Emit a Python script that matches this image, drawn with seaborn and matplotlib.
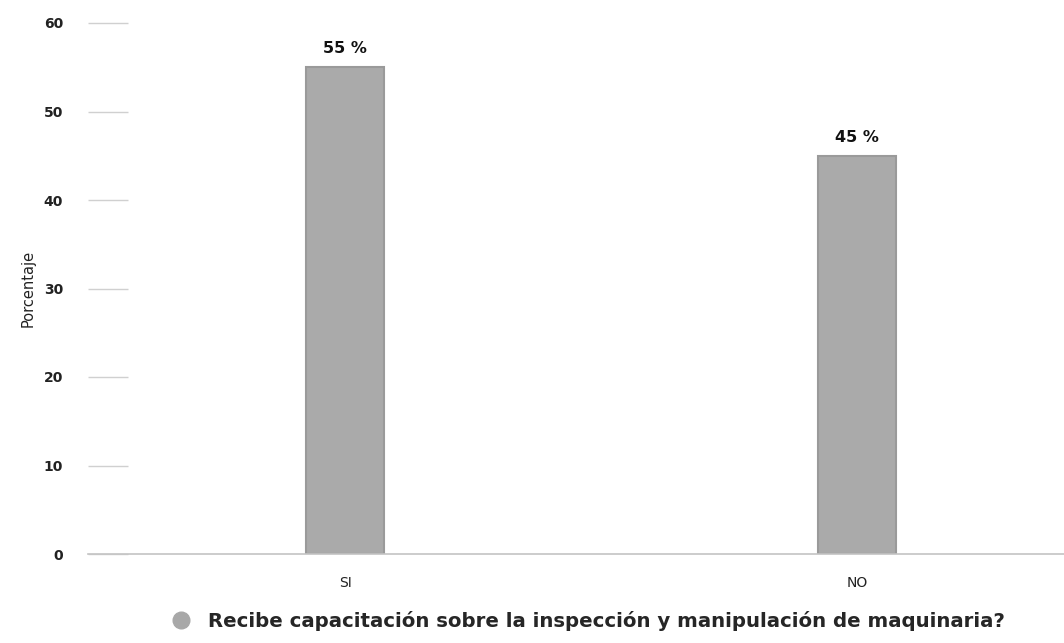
import matplotlib
matplotlib.use("Agg")
import matplotlib.pyplot as plt
import seaborn as sns
import pandas as pd
from matplotlib.lines import Line2D

categories = ["SI", "NO"]
values = [55, 45]
y_ticks = [0, 10, 20, 30, 40, 50, 60]
legend_label = "Recibe capacitación sobre la inspección y manipulación de maquinaria?"
y_label = "Porcentaje"

sns.set_theme(style="white")
plt.rcParams['font.family'] = ['DejaVu Sans']

df = pd.DataFrame({"cat": categories, "val": values})

fig = plt.figure(figsize=(10.64, 6.43), dpi=100)
ax = fig.add_axes([88/1064, 89/643, 1 - 88/1064, (554-23)/643])

sns.barplot(data=df, x="cat", y="val", ax=ax, color="#aaaaaa", saturation=1,
            width=0.152, edgecolor="#9a9a9a", linewidth=1.5)

ax.set_ylim(0, 60)
ax.set_xlim(-0.502, 1.404)
ax.set_yticks(y_ticks)
ax.set_yticklabels([str(t) for t in y_ticks], fontsize=10, fontweight="bold", color="#222222")
ax.tick_params(axis="y", direction="in", length=29, width=1, color="#d0d0d0", pad=18, left=True)
ax.tick_params(axis="x", length=0, pad=16, labelsize=10, labelcolor="#222222")
ax.set_xlabel("")
ax.set_ylabel(y_label, fontsize=10.5, color="#222222", labelpad=6)

for s in ["left", "right", "top"]:
    ax.spines[s].set_visible(False)
ax.spines["bottom"].set_color("#c4c4c4")
ax.spines["bottom"].set_linewidth(1.2)

for c in ax.containers:
    ax.bar_label(c, fmt="{:.0f} %", padding=8, fontsize=11.5, fontweight="bold", color="#111111")

handle = Line2D([], [], marker="o", linestyle="", markersize=12,
                markerfacecolor="#a8a8a8", markeredgecolor="#a8a8a8")
fig.legend([handle], [legend_label], loc="center", bbox_to_anchor=(0.548, 0.034),
           frameon=False, prop={"size": 14.2, "weight": "bold"}, handletextpad=0.4)

fig.savefig("out.png", dpi=100)
